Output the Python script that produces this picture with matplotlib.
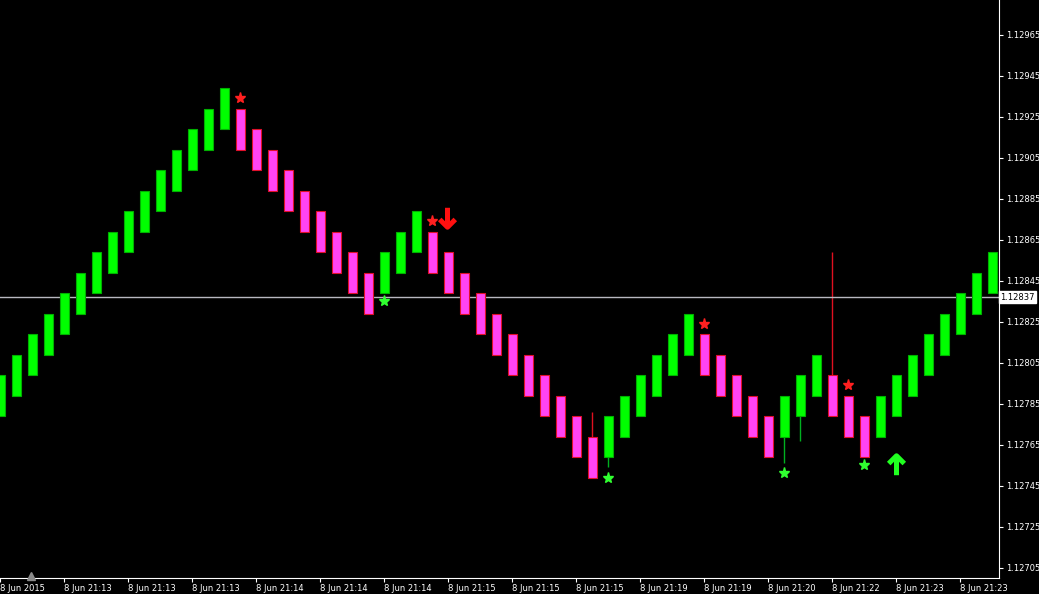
import numpy as np
import matplotlib
matplotlib.use("Agg")
import matplotlib.pyplot as plt
from matplotlib.path import Path

# renko bricks (one entry per bar)
opens = [1.12779, 1.12789, 1.12799, 1.12809, 1.12819, 1.12829, 1.12839, 1.12849, 1.12859, 1.12869,
         1.12879, 1.12889, 1.12899, 1.12909, 1.12919, 1.12929, 1.12919, 1.12909, 1.12899, 1.12889,
         1.12879, 1.12869, 1.12859, 1.12849, 1.12839, 1.12849, 1.12859, 1.12869, 1.12859, 1.12849,
         1.12839, 1.12829, 1.12819, 1.12809, 1.12799, 1.12789, 1.12779, 1.12769, 1.12759, 1.12769,
         1.12779, 1.12789, 1.12799, 1.12809, 1.12819, 1.12809, 1.12799, 1.12789, 1.12779, 1.12769,
         1.12779, 1.12789, 1.12799, 1.12789, 1.12779, 1.12769, 1.12779, 1.12789, 1.12799, 1.12809,
         1.12819, 1.12829, 1.12839]
closes = [1.12799, 1.12809, 1.12819, 1.12829, 1.12839, 1.12849, 1.12859, 1.12869, 1.12879, 1.12889,
          1.12899, 1.12909, 1.12919, 1.12929, 1.12939, 1.12909, 1.12899, 1.12889, 1.12879, 1.12869,
          1.12859, 1.12849, 1.12839, 1.12829, 1.12859, 1.12869, 1.12879, 1.12849, 1.12839, 1.12829,
          1.12819, 1.12809, 1.12799, 1.12789, 1.12779, 1.12769, 1.12759, 1.12749, 1.12779, 1.12789,
          1.12799, 1.12809, 1.12819, 1.12829, 1.12799, 1.12789, 1.12779, 1.12769, 1.12759, 1.12789,
          1.12799, 1.12809, 1.12779, 1.12769, 1.12759, 1.12789, 1.12799, 1.12809, 1.12819, 1.12829,
          1.12839, 1.12849, 1.12859]
# wicks that stick out of a brick: bar index -> (low, high)
wick_bars = [37, 38, 49, 50, 52]
wick_low = [1.12749, 1.12754, 1.12756, 1.12767, 1.12779]
wick_high = [1.12781, 1.12779, 1.12789, 1.12799, 1.12859]

sell_star_x = [15, 27, 44, 53]
sell_star_y = [1.12934, 1.12874, 1.12824, 1.12794]
buy_star_x = [24, 38, 49, 54]
buy_star_y = [1.12835, 1.12749, 1.12751, 1.12755]
down_arrow = (27.9, 1.12876)
up_arrow = (56, 1.12755)

last_price = 1.12837
price_ticks = [1.12705, 1.12725, 1.12745, 1.12765, 1.12785, 1.12805, 1.12825,
               1.12845, 1.12865, 1.12885, 1.12905, 1.12925, 1.12945, 1.12965]
time_ticks = [0, 4, 8, 12, 16, 20, 24, 28, 32, 36, 40, 44, 48, 52, 56, 60]
time_labels = ["8 Jun 2015", "8 Jun 21:13", "8 Jun 21:13", "8 Jun 21:13", "8 Jun 21:14",
               "8 Jun 21:14", "8 Jun 21:14", "8 Jun 21:15", "8 Jun 21:15", "8 Jun 21:15",
               "8 Jun 21:19", "8 Jun 21:19", "8 Jun 21:20", "8 Jun 21:22", "8 Jun 21:23",
               "8 Jun 21:23"]

W, H = 1039, 594
fig = plt.figure(figsize=(W / 100, H / 100), dpi=100, facecolor="black")
ax = fig.add_axes([0, 16 / H, 999 / W, 1 - 16 / H], facecolor="black")

x = np.arange(len(opens))
o = np.array(opens)
c = np.array(closes)
up = c > o
bull, bear = "#00ff00", "#ff44f4"

# wicks first so bodies sit over them
for i, lo, hi in zip(wick_bars, wick_low, wick_high):
    col = "#00b020" if up[i] else "#e01020"
    ax.vlines(i, lo, hi, color=col, lw=1, zorder=1)

ax.bar(x[up], c[up] - o[up], bottom=o[up], width=0.62, color=bull,
       edgecolor="#00b000", linewidth=0.8, zorder=2)
ax.bar(x[~up], o[~up] - c[~up], bottom=c[~up], width=0.62, color=bear,
       edgecolor="#e0102a", linewidth=0.8, zorder=2)

ax.axhline(last_price, color="#b8b8c0", lw=1, zorder=1.5)

ax.plot(sell_star_x, sell_star_y, "*", color="#ff2020", ms=8, mec="#ff2020", zorder=3)
ax.plot(buy_star_x, buy_star_y, "*", color="#30ff30", ms=8, mec="#30ff30", zorder=3)

# thick arrow markers (stem + chevron)
up_path = Path([(0, -1), (0, 1), (-0.8, 0.2), (0, 1), (0.8, 0.2)],
               [Path.MOVETO, Path.LINETO, Path.MOVETO, Path.LINETO, Path.LINETO])
down_path = Path([(0, 1), (0, -1), (-0.8, -0.2), (0, -1), (0.8, -0.2)],
                 [Path.MOVETO, Path.LINETO, Path.MOVETO, Path.LINETO, Path.LINETO])
ax.plot(*down_arrow, marker=down_path, ms=14, mfc="none", mec="#ff1010", mew=3.6, zorder=3)
ax.plot(*up_arrow, marker=up_path, ms=14, mfc="none", mec="#20ff20", mew=3.6, zorder=3)

ax.set_xlim(-0.03, 999 / 16 - 0.03)
ax.set_ylim(1.12700, 1.12982)

for s in ["top", "left"]:
    ax.spines[s].set_visible(False)
ax.spines["right"].set_color("white")
ax.spines["bottom"].set_color("white")

ax.yaxis.tick_right()
ax.set_yticks(price_ticks)
ax.set_yticklabels([f"{p:.5f}" for p in price_ticks])
ax.tick_params(axis="y", colors="white", labelsize=6, length=3, pad=2, width=0.8)

ax.set_xticks(time_ticks)
ax.set_xticklabels(time_labels, ha="left")
ax.tick_params(axis="x", colors="white", labelsize=6, length=3, pad=1.5, width=0.8)

# current price label box on the scale
ax.text(1.0015, last_price, f"{last_price:.5f}", transform=ax.get_yaxis_transform(),
        fontsize=6, color="black", va="center", ha="left", clip_on=False,
        bbox=dict(boxstyle="square,pad=0.15", fc="white", ec="white"))

# chart-shift marker at the bottom
ax.plot([31 / 999], [0.004], marker="^", ms=6, color="#8a8a8a",
        transform=ax.transAxes, clip_on=False, zorder=4)

fig.savefig("out.png", dpi=100, facecolor="black")
